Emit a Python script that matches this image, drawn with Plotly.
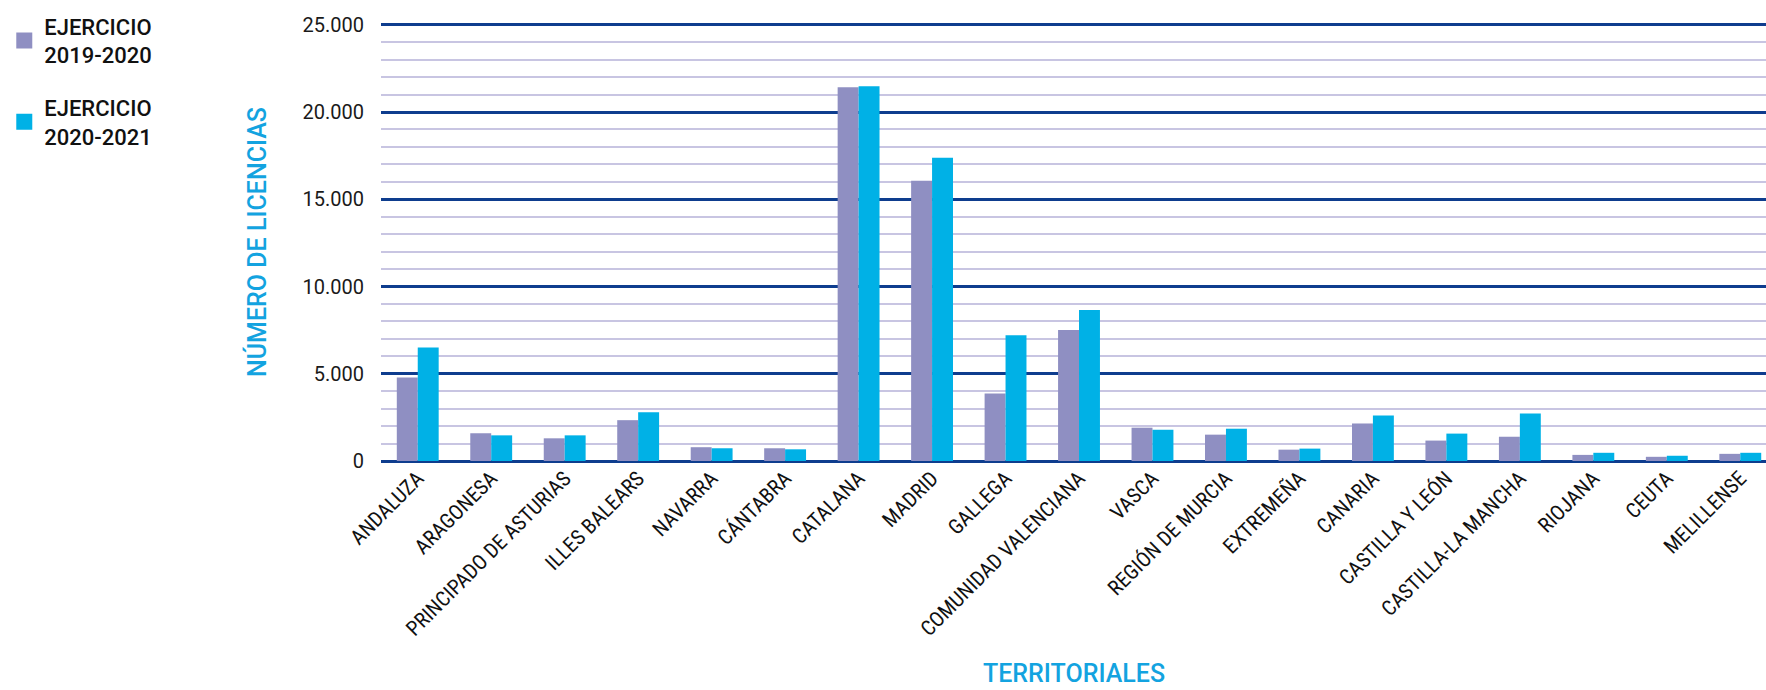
import plotly.graph_objects as go

categories = ["ANDALUZA", "ARAGONESA", "PRINCIPADO DE ASTURIAS", "ILLES BALEARS", "NAVARRA",
              "CÁNTABRA", "CATALANA", "MADRID", "GALLEGA", "COMUNIDAD VALENCIANA", "VASCA",
              "REGIÓN DE MURCIA", "EXTREMEÑA", "CANARIA", "CASTILLA Y LEÓN", "CASTILLA-LA MANCHA",
              "RIOJANA", "CEUTA", "MELILLENSE"]
series_names = ["EJERCICIO<br>2019-2020", "EJERCICIO<br>2020-2021"]
values_2019_2020 = [4790, 1590, 1300, 2340, 790, 730, 21420, 16060, 3870, 7500, 1910,
                    1510, 650, 2150, 1170, 1390, 350, 240, 410]
values_2020_2021 = [6500, 1470, 1470, 2800, 730, 670, 21480, 17380, 7210, 8650, 1790,
                    1850, 710, 2610, 1570, 2720, 470, 300, 470]
y_tickvals = [0, 5000, 10000, 15000, 20000, 25000]

PURPLE = "#8f8fc2"
CYAN = "#00b1e6"
TITLE_BLUE = "#13a3e0"

fig = go.Figure()
fig.add_trace(go.Bar(x=categories, y=values_2019_2020, marker_color=PURPLE,
                     marker_line_width=0, showlegend=False, name=series_names[0]))
fig.add_trace(go.Bar(x=categories, y=values_2020_2021, marker_color=CYAN,
                     marker_line_width=0, showlegend=False, name=series_names[1]))
# legend entries with larger square symbols
for nm, col, grp in [(series_names[0], PURPLE, "a"), (series_names[1], CYAN, "b")]:
    fig.add_trace(go.Scatter(x=[None], y=[None], mode="markers", name=nm, legendgroup=grp,
                             marker=dict(symbol="square", size=18, color=col)))

fig.update_layout(
    width=1766, height=690,
    margin=dict(l=381, r=0, t=23, b=229),
    paper_bgcolor="white", plot_bgcolor="white",
    separators=",.",
    barmode="group", bargap=0.43, bargroupgap=0,
    font=dict(family="Roboto, sans-serif", color="#1a1a1a"),
    legend=dict(x=-0.272, y=1.04, xanchor="left", yanchor="top",
                traceorder="grouped", tracegroupgap=21,
                font=dict(size=22, color="#111111", family="Roboto, sans-serif", weight=500),
                itemwidth=30, bgcolor="rgba(0,0,0,0)"),
    xaxis=dict(tickangle=-45, showgrid=False, showline=False, ticks="",
               range=[-0.5, 18.35],
               tickfont=dict(size=21, family="Roboto Condensed, DejaVu Sans Condensed, Roboto, sans-serif",
                             color="#111111"),
               fixedrange=True),
    yaxis=dict(range=[0, 25100], tickvals=y_tickvals, tickformat=",d",
               showgrid=True, gridcolor="#0e3d8e", gridwidth=3,
               zeroline=True, zerolinecolor="#0e3d8e", zerolinewidth=3,
               showline=False, ticks="", ticklabelstandoff=16,
               tickfont=dict(size=20, color="#1a1a1a", family="Roboto, sans-serif"),
               minor=dict(dtick=1000, showgrid=True, gridcolor="#c8c5e2", gridwidth=2),
               title=dict(text="NÚMERO DE LICENCIAS", standoff=28,
                          font=dict(size=25, color=TITLE_BLUE, family="Roboto, sans-serif", weight=500)),
               fixedrange=True),
    annotations=[dict(text="TERRITORIALES", xref="paper", yref="paper", x=0.5, y=-0.523,
                      xanchor="center", yanchor="bottom", showarrow=False,
                      font=dict(size=25, color=TITLE_BLUE, family="Roboto, sans-serif", weight=500))],
)

fig.write_html("out.html", config={"displayModeBar": False},
               post_script="document.body.style.margin='0px';")
